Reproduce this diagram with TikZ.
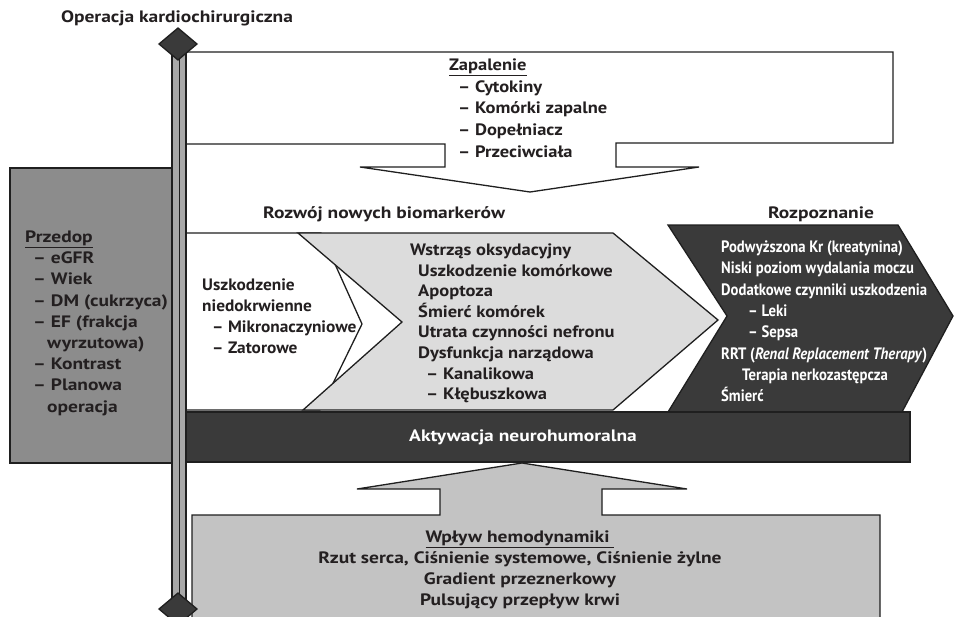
\documentclass[tikz,border=0pt]{standalone}
\usepackage{fontspec}
\setmainfont[FakeStretch=1.18]{PT Sans}
\newfontfamily\midf[FakeStretch=1.12]{PT Sans}
\newfontfamily\narf[FakeStretch=1.05]{PT Sans}
\newfontfamily\condf[FakeStretch=0.89]{PT Sans}
\newcommand\myfs{\fontsize{16.5}{20}\selectfont\bfseries}
\newcommand\mymfs{\midf\fontsize{16.5}{20}\selectfont\bfseries}
\newcommand\mynfs{\narf\fontsize{16.5}{20}\selectfont\bfseries}
\newcommand\mycfs{\condf\fontsize{16.5}{20}\selectfont\bfseries}
\definecolor{txtc}{HTML}{231F20}
\definecolor{dk}{HTML}{3A3A3A}
\definecolor{chev}{HTML}{DCDCDC}
\definecolor{botc}{HTML}{C3C3C3}
\definecolor{prec}{HTML}{8C8C8C}
\definecolor{barc}{HTML}{A8A8A8}
\begin{document}
\begin{tikzpicture}[x=1pt,y=-1pt,
  outl/.style={draw=black!88, line width=1.3pt, line join=miter},
  t/.style={font=\myfs, text=txtc, anchor=base west, inner sep=0pt},
  tm/.style={t, font=\mymfs},
  tn/.style={t, font=\mynfs},
  tc/.style={font=\mycfs, text=white, anchor=base west, inner sep=0pt}]
\useasboundingbox (0,0) rectangle (955,616);
\clip (0,0) rectangle (955,616);
% pre-op box
\draw[outl, fill=prec] (10,168) rectangle (172,463);
% inflammation call-out arrow
\draw[outl, fill=white] (186,52) -- (893,52) -- (893,143) -- (616,143) -- (616,167) -- (699,167) -- (530,192) -- (360,167) -- (445,167) -- (445,144) -- (186,144) -- cycle;
% white arrow
\draw[outl, fill=white] (186,233) -- (321,233) -- (362,324) -- (320,410) -- (186,410) -- cycle;
% grey chevron
\draw[outl, fill=chev] (298,233) -- (613,233) -- (718,320) -- (613,410) -- (303,410) -- (402,322) -- cycle;
% dark chevron
\draw[outl, fill=dk] (668,225) -- (898,225) -- (953,316) -- (902,412) -- (668,412) -- (727,316) -- cycle;
% neurohumoral bar
\draw[outl, fill=dk] (186,412) rectangle (910,462);
% haemodynamics up arrow + box
\draw[outl, fill=botc] (192,625) -- (192,515) -- (440,515) -- (440,489) -- (357,489) -- (522,463) -- (687,489) -- (602,489) -- (602,515) -- (880,515) -- (880,625);
% time bar
\draw[outl, fill=barc] (172,44) rectangle (186,609);
\draw[line width=1pt, black!88] (179,44) -- (179,609);
\draw[outl, fill=dk] (178,28) -- (197,44) -- (178,60) -- (159,44) -- cycle;
\draw[outl, fill=dk] (178,593) -- (197,609) -- (178,625) -- (159,609) -- cycle;
% texts
\node[t, anchor=base] (title) at (177,22.5) {Operacja kardiochirurgiczna};
\node[tm] (z0) at (449,70.5) {\underline{Zapalenie}};
\node[tm] (z1) at (458,92.2) {– Cytokiny};
\node[tm] (z2) at (458,113.9) {– Komórki zapalne};
\node[tm] (z3) at (458,135.6) {– Dopełniacz};
\node[tm] (z4) at (458,157.3) {– Przeciwciała};
\node[t] (bio) at (263,218.5) {Rozwój nowych biomarkerów};
\node[t, anchor=base] (roz) at (821,218.5) {Rozpoznanie};
\node[t] (p0) at (25,242.5) {\underline{Przedop}};
\node[t] (p1) at (33,263.7) {– eGFR};
\node[t] (p2) at (33,284.9) {– Wiek};
\node[t] (p3) at (33,306.1) {– DM (cukrzyca)};
\node[t] (p4) at (33,327.3) {– EF (frakcja};
\node[t] (p5) at (47,348.5) {wyrzutowa)};
\node[t] (p6) at (33,369.7) {– Kontrast};
\node[t] (p7) at (33,390.9) {– Planowa};
\node[t] (p8) at (47,412.1) {operacja};
\node[tn] (u0) at (202,290.5) {Uszkodzenie};
\node[tn] (u1) at (202,311.5) {niedokrwienne};
\node[tn] (u2) at (212,332.5) {– Mikronaczyniowe};
\node[tn] (u3) at (212,353.5) {– Zatorowe};
\node[tm] (w0) at (410,255.5) {Wstrząs oksydacyjny};
\node[tm] (w1) at (418,276.1) {Uszkodzenie komórkowe};
\node[tm] (w2) at (418,296.7) {Apoptoza};
\node[tm] (w3) at (418,317.3) {Śmierć komórek};
\node[tm] (w4) at (418,337.9) {Utrata czynności nefronu};
\node[tm] (w5) at (418,358.5) {Dysfunkcja narządowa};
\node[tm] (w6) at (426,379.1) {– Kanalikowa};
\node[tm] (w7) at (426,399.7) {– Kłębuszkowa};
\node[tc] (r0) at (721,252.5) {Podwyższona Kr (kreatynina)};
\node[tc] (r1) at (721,273.8) {Niski poziom wydalania moczu};
\node[tc] (r2) at (721,295.1) {Dodatkowe czynniki uszkodzenia};
\node[tc] (r3) at (748,316.4) {– Leki};
\node[tc] (r4) at (748,337.7) {– Sepsa};
\node[tc] (r5) at (721,359.0) {RRT (\itshape Renal Replacement Therapy\/\upshape)};
\node[tc] (r6) at (742,380.3) {Terapia nerkozastępcza};
\node[tc] (r7) at (721,401.6) {Śmierć};
\node[t, text=white, anchor=base] (akt) at (523,441.5) {Aktywacja neurohumoralna};
\node[t, anchor=base] (h0) at (520,542.5) {\underline{Wpływ hemodynamiki\ }};
\node[t, anchor=base] (h1) at (520,563.5) {Rzut serca, Ciśnienie systemowe, Ciśnienie żylne};
\node[t, anchor=base] (h2) at (520,584.5) {Gradient przeznerkowy};
\node[t, anchor=base] (h3) at (520,605.5) {Pulsujący przepływ krwi};
\end{tikzpicture}
\end{document}
